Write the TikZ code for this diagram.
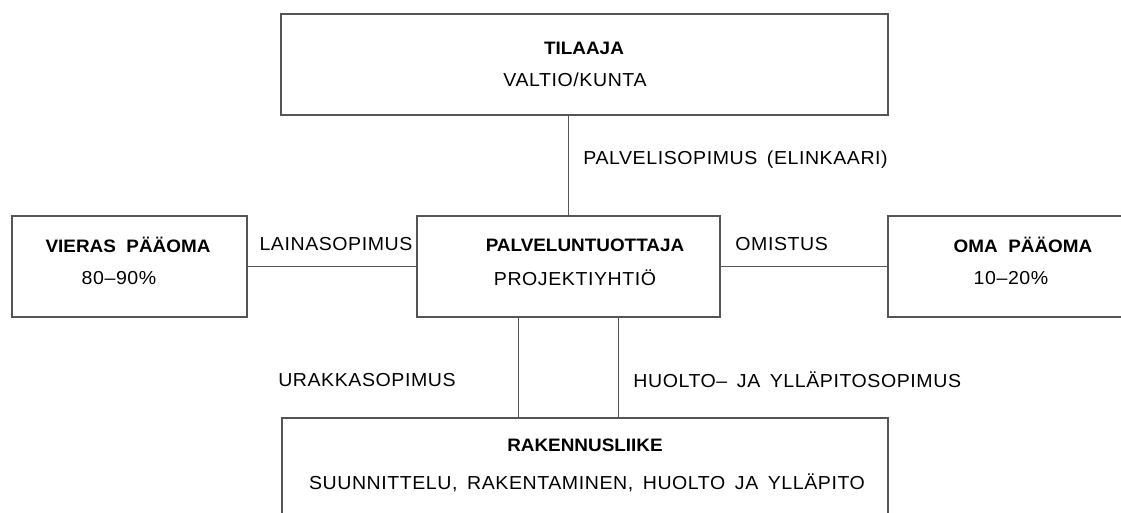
\documentclass[tikz,border=0pt]{standalone}
\usepackage{fontspec}
\setmainfont{Liberation Sans}
\newfontfamily\thinfont[FakeStretch=1.04,LetterSpace=3,WordSpace=1.6]{Liberation Sans}
\newfontfamily\headfont[FakeStretch=1.05,WordSpace=2]{Liberation Sans Bold}
\definecolor{linegray}{HTML}{555555}
\tikzset{
  box/.style={draw=linegray, line width=1pt, minimum height=50.5pt, inner sep=0pt},
  link/.style={draw=linegray, line width=0.75pt},
  title/.style={font=\headfont\fontsize{9}{10}\selectfont, inner sep=0pt},
  sub/.style={font=\thinfont\fontsize{9.4}{10}\selectfont, inner sep=0pt}
}
\begin{document}
\begin{tikzpicture}[x=0.5pt,y=-0.5pt]
\useasboundingbox (0,0) rectangle (1121,513);
\clip (0,0) rectangle (1121,513);
% boxes
\node[box, minimum width=303.5pt] (tilaaja) at (584.5,64.5){};
\node[box, minimum width=117.5pt] (vieras) at (129.5,266.5){};
\node[box, minimum width=151.5pt] (palvelu) at (568.5,266.5){};
\node[box, minimum width=126pt] (oma) at (1014,266.5){};
\node[box, minimum width=303pt, minimum height=61pt] (rakennus) at (585,479){};
% box texts
\node[title] (tilaajaT) at (584,48){TILAAJA};
\node[sub] (tilaajaS) at (575,80){VALTIO/KUNTA};
\node[title] (vierasT) at (128,245){VIERAS PÄÄOMA};
\node[sub] (vierasS) at (119,278){80–90\%};
\node[title] (palveluT) at (585,245){PALVELUNTUOTTAJA};
\node[sub] (palveluS) at (575,278){PROJEKTIYHTIÖ};
\node[title] (omaT) at (1023,245){OMA PÄÄOMA};
\node[sub] (omaS) at (1011,278){10–20\%};
\node[title] (rakennusT) at (585,445){RAKENNUSLIIKE};
\node[sub] (rakennusS) at (587,483){SUUNNITTELU, RAKENTAMINEN, HUOLTO JA YLLÄPITO};
% connectors
\draw[link](palvelu.north) -- (palvelu.north |- tilaaja.south);
\draw[link](vieras.east) -- (palvelu.west);
\draw[link](palvelu.east) -- (oma.west);
\draw[link]([xshift=-25pt]palvelu.south) -- ([xshift=-25pt]palvelu.south |- rakennus.north);
\draw[link]([xshift=25pt]palvelu.south) -- ([xshift=25pt]palvelu.south |- rakennus.north);
% connector labels
\node[sub, anchor=west] (elinkaari) at (583,160){PALVELISOPIMUS (ELINKAARI)};
\node[sub] (laina) at (336,244){LAINASOPIMUS};
\node[sub, anchor=west] (omistus) at (735,244){OMISTUS};
\node[sub, anchor=east] (urakka) at (456,380){URAKKASOPIMUS};
\node[sub, anchor=west] (huolto) at (633,380){HUOLTO– JA YLLÄPITOSOPIMUS};
\end{tikzpicture}
\end{document}
